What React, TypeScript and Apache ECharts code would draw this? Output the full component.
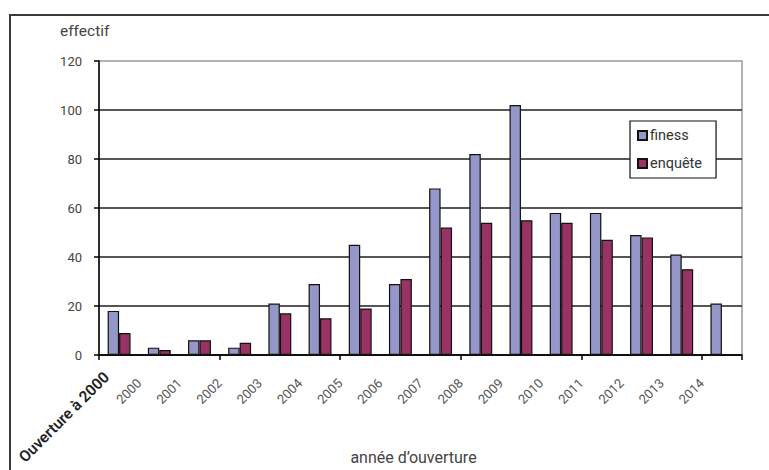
import React, { useEffect, useRef } from "react";
import * as echarts from "echarts";

const categories = [
  "Ouverture à 2000", "2000", "2001", "2002", "2003", "2004", "2005", "2006",
  "2007", "2008", "2009", "2010", "2011", "2012", "2013", "2014",
];
const finess = [18, 3, 6, 3, 21, 29, 45, 29, 68, 82, 102, 58, 58, 49, 41, 21];
const enquete: (number | null)[] = [9, 2, 6, 5, 17, 15, 19, 31, 52, 54, 55, 54, 47, 48, 35, null];
const yTicks = { min: 0, max: 120, interval: 20 };

const FONT = "Roboto, 'Noto Sans', sans-serif";

export default function App() {
  const ref = useRef<HTMLDivElement>(null);
  useEffect(() => {
    if (!ref.current) return;
    const chart = echarts.init(ref.current, null, { renderer: "svg" });
    const labelAxisData = [...categories, ""];
    chart.setOption({
      animation: false,
      backgroundColor: "#ffffff",
      textStyle: { fontFamily: FONT },
      grid: {
        left: 99,
        top: 61,
        width: 643,
        height: 294,
        show: true,
        borderColor: "#9a9a9a",
        borderWidth: 1.5,
        backgroundColor: "transparent",
        outerBoundsMode: "none",
        containLabel: false,
      },
      legend: {
        orient: "vertical",
        left: 630,
        top: 121,
        padding: [7, 14, 7, 7],
        itemWidth: 9,
        itemHeight: 9,
        itemGap: 13,
        icon: "rect",
        backgroundColor: "#ffffff",
        borderColor: "#111",
        borderWidth: 1.2,
        textStyle: { fontFamily: FONT, fontSize: 14.5, color: "#333", padding: [0, 0, 0, -2] },
        data: ["finess", "enquête"],
      },
      xAxis: [
        {
          type: "category",
          data: categories,
          position: "bottom",
          boundaryGap: true,
          axisLine: { show: true, lineStyle: { color: "#000", width: 1.5 } },
          axisTick: { show: true, length: 5, inside: false, lineStyle: { color: "#000", width: 1.5 } },
          axisLabel: { show: false },
          splitLine: { show: false },
          name: "année d’ouverture",
          nameLocation: "middle",
          nameGap: 94,
          nameTextStyle: { fontFamily: FONT, fontSize: 16, color: "#444", padding: [0, 14, 0, 0] },
        },
        {
          type: "category",
          data: labelAxisData,
          position: "bottom",
          boundaryGap: false,
          axisLine: { show: false },
          axisTick: { show: false },
          splitLine: { show: false },
          axisLabel: {
            show: true,
            interval: 0,
            rotate: 45,
            margin: 26,
            fontFamily: FONT,
            fontSize: 13,
            color: "#555",
            formatter: (v: string, i: number) => (i === 0 ? "{b|" + v + "}" : v),
            rich: {
              b: {
                fontFamily: FONT,
                fontSize: 15.5,
                fontWeight: 600,
                color: "#222",
                padding: [2, -10, 0, 0],
              },
            },
          },
        },
      ],
      yAxis: {
        type: "value",
        min: yTicks.min,
        max: yTicks.max,
        interval: yTicks.interval,
        axisLine: { show: true, lineStyle: { color: "#000", width: 1.5 } },
        axisTick: { show: true, length: 5, inside: false, lineStyle: { color: "#000", width: 1.5 } },
        axisLabel: { fontFamily: FONT, fontSize: 13, color: "#444", margin: 17 },
        splitLine: { show: true, showMaxLine: false, lineStyle: { color: "#1e1e1e", width: 1.5 } },
      },
      graphic: [
        {
          type: "rect",
          shape: { x: 10, y: 15, width: 800, height: 500 },
          style: { fill: "none", stroke: "#3a3a3a", lineWidth: 2 },
          silent: true,
        },
        {
          type: "text",
          left: 60,
          top: 23,
          style: { text: "effectif", fontFamily: FONT, fontSize: 15.5, fill: "#444" },
        },
      ],
      series: [
        {
          name: "finess",
          type: "bar",
          xAxisIndex: 0,
          data: finess,
          barGap: "0%",
          barCategoryGap: "43%",
          itemStyle: { color: "#9597C9", borderColor: "#111", borderWidth: 1.2 },
        },
        {
          name: "enquête",
          type: "bar",
          xAxisIndex: 0,
          data: enquete,
          barGap: "0%",
          barCategoryGap: "43%",
          itemStyle: { color: "#993366", borderColor: "#111", borderWidth: 1.2 },
        },
      ],
    });
    return () => chart.dispose();
  }, []);
  return (
    <div
      ref={ref}
      style={{ position: "fixed", left: 0, top: 0, width: 769, height: 470 }}
    />
  );
}
